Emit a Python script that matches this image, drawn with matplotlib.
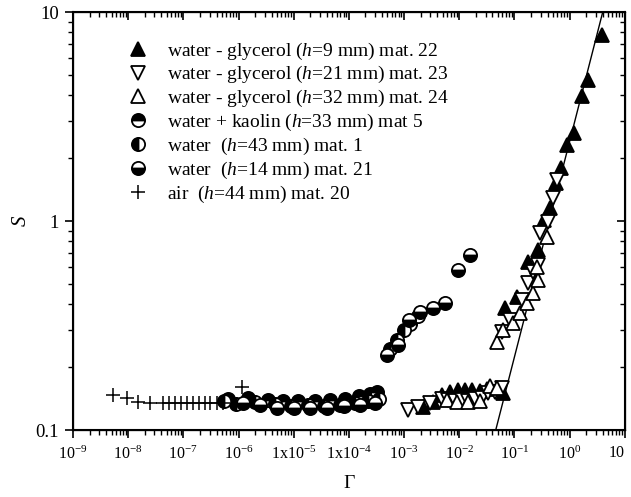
import matplotlib
matplotlib.use("Agg")
import matplotlib.pyplot as plt
from matplotlib.ticker import LogLocator, FixedLocator, FixedFormatter, NullFormatter

plt.rcParams['font.family'] = ['Liberation Serif', 'DejaVu Serif']
plt.rcParams['mathtext.fontset'] = 'custom'
plt.rcParams['mathtext.rm'] = 'Liberation Serif'
plt.rcParams['mathtext.it'] = 'Liberation Serif:italic'

# ---- data (Gamma, S) ----
g9_gamma = [2.19e-3, 3.32e-3, 4.84e-3, 6.76e-3, 9.44e-3, 1.26e-2, 1.69e-2, 2.36e-2, 3.16e-2, 6.17e-2,
            6.70e-2, 0.110, 0.175, 0.265, 0.341, 0.438, 0.562, 0.693, 0.889, 1.19, 1.66, 2.14, 3.83]
g9_S = [0.129, 0.136, 0.147, 0.152, 0.155, 0.155, 0.155, 0.154, 0.157, 0.150,
        0.384, 0.433, 0.637, 0.726, 1.01, 1.15, 1.52, 1.79, 2.31, 2.64, 3.96, 4.73, 7.76]

g21_gamma = [1.17e-3, 1.78e-3, 2.93e-3, 4.84e-3, 6.21e-3, 8.32e-3, 1.11e-2, 1.43e-2, 1.92e-2, 2.57e-2,
             3.30e-2, 4.41e-2, 5.91e-2, 5.91e-2, 8.26e-2, 0.136, 0.175, 0.215, 0.265, 0.288, 0.403, 0.496, 0.586]
g21_S = [0.125, 0.129, 0.135, 0.141, 0.139, 0.138, 0.139, 0.138, 0.141, 0.142,
         0.150, 0.152, 0.159, 0.294, 0.336, 0.419, 0.505, 0.570, 0.615, 0.877, 0.99, 1.29, 1.57]

g32_gamma = [5.96e-3, 9.06e-3, 1.43e-2, 2.36e-2, 3.58e-2, 4.80e-2,
             4.80e-2, 6.17e-2, 9.35e-2, 0.125, 0.168, 0.215, 0.265, 0.255, 0.386]
g32_S = [0.139, 0.136, 0.136, 0.138, 0.163, 0.159,
         0.264, 0.301, 0.325, 0.363, 0.405, 0.453, 0.522, 0.602, 0.838]

kaolin_gamma = [6.4e-7, 1.5e-6, 3.4e-6, 6.4e-6, 1.2e-5, 2.4e-5, 4.5e-5, 8.5e-5, 1.5e-4, 2.4e-4, 3.3e-4,
                1.3e-3, 1.8e-3]
kaolin_S = [0.140, 0.142, 0.139, 0.138, 0.137, 0.138, 0.139, 0.141, 0.145, 0.148, 0.152,
            0.320, 0.350]

w43_gamma = [5.5e-7, 9e-7, 2e-6, 4.5e-6, 9e-6, 1.8e-5, 3.5e-5, 7e-5, 1.3e-4, 2.2e-4, 3.5e-4,
             5.5e-4, 7.5e-4, 1.0e-3]
w43_S = [0.138, 0.133, 0.136, 0.133, 0.130, 0.131, 0.130, 0.132, 0.135, 0.137, 0.140,
         0.245, 0.270, 0.300]

w14_gamma = [1.2e-6, 2.5e-6, 5e-6, 1e-5, 2e-5, 4e-5, 8e-5, 1.6e-4, 3e-4,
             4.9e-4, 7.7e-4, 1.22e-3, 1.93e-3, 3.32e-3, 5.48e-3, 9.4e-3, 1.56e-2]
w14_S = [0.135, 0.132, 0.128, 0.128, 0.127, 0.128, 0.130, 0.132, 0.135,
         0.229, 0.255, 0.336, 0.367, 0.384, 0.405, 0.583, 0.688]

air_gamma = [5.3e-9, 9.5e-9, 1.5e-8, 2.5e-8, 4.3e-8, 5.5e-8, 7.0e-8, 9.0e-8, 1.16e-7, 1.5e-7,
             1.9e-7, 2.5e-7, 3.1e-7, 4.0e-7, 5.2e-7, 1.15e-6]
air_S = [0.147, 0.142, 0.1365, 0.135, 0.1346, 0.1346, 0.1346, 0.1346, 0.1346, 0.1346,
         0.1346, 0.1346, 0.1346, 0.135, 0.135, 0.161]

fit_gamma = [0.046, 4.0]
fit_S = [0.1, 10.0]

labels = ["water - glycerol ($h$=9 mm) mat. 22",
          "water - glycerol ($h$=21 mm) mat. 23",
          "water - glycerol ($h$=32 mm) mat. 24",
          "water + kaolin ($h$=33 mm) mat 5",
          "water  ($h$=43 mm) mat. 1",
          "water  ($h$=14 mm) mat. 21",
          "air  ($h$=44 mm) mat. 20"]

xtick_vals = [1e-9, 1e-8, 1e-7, 1e-6, 1e-5, 1e-4, 1e-3, 1e-2, 1e-1, 1e0, 1e1]
xtick_labels = ["10$^{-9}$", "10$^{-8}$", "10$^{-7}$", "10$^{-6}$", "1x10$^{-5}$", "1x10$^{-4}$",
                "10$^{-3}$", "10$^{-2}$", "10$^{-1}$", "10$^{0}$", "10"]
ytick_vals = [0.1, 1, 10]
ytick_labels = ["0.1", "1", "10"]

fig = plt.figure(figsize=(6.31, 4.97), dpi=100)
ax = fig.add_axes([0.1157, 0.1348, 0.8743, 0.8410])
ax.set_xscale('log')
ax.set_yscale('log')

ms_tri = 10.5
ms_circ = 9.5
ax.plot(fit_gamma, fit_S, color='black', lw=1.0, zorder=1)
h1, = ax.plot(g9_gamma, g9_S, ls='none', marker='^', ms=ms_tri, mfc='black', mec='black', mew=1.3, zorder=3)
h2, = ax.plot(g21_gamma, g21_S, ls='none', marker='v', ms=ms_tri, mfc='white', mec='black', mew=1.3, zorder=3)
h3, = ax.plot(g32_gamma, g32_S, ls='none', marker='^', ms=ms_tri, mfc='white', mec='black', mew=1.3, zorder=3)
h4, = ax.plot(kaolin_gamma, kaolin_S, ls='none', marker='o', ms=ms_circ, fillstyle='top', mfc='black',
              mfcalt='white', mec='black', mew=1.3, zorder=2)
h5, = ax.plot(w43_gamma, w43_S, ls='none', marker='o', ms=ms_circ, fillstyle='left', mfc='black',
              mfcalt='white', mec='black', mew=1.3, zorder=2)
h6, = ax.plot(w14_gamma, w14_S, ls='none', marker='o', ms=ms_circ, fillstyle='bottom', mfc='black',
              mfcalt='white', mec='black', mew=1.3, zorder=2)
h7, = ax.plot(air_gamma, air_S, ls='none', marker='+', ms=9.5, mec='black', mew=1.1, zorder=2)

ax.set_xlim(1e-9, 10)
ax.set_ylim(0.1, 10)

ax.xaxis.set_major_locator(FixedLocator(xtick_vals))
ax.xaxis.set_major_formatter(FixedFormatter(xtick_labels))
ax.xaxis.set_minor_locator(LogLocator(base=10, subs=range(2, 10), numticks=20))
ax.xaxis.set_minor_formatter(NullFormatter())
ax.yaxis.set_major_locator(FixedLocator(ytick_vals))
ax.yaxis.set_major_formatter(FixedFormatter(ytick_labels))
ax.yaxis.set_minor_locator(LogLocator(base=10, subs=range(2, 10), numticks=20))
ax.yaxis.set_minor_formatter(NullFormatter())
ax.tick_params(which='major', direction='out', length=6, width=1.2)
ax.tick_params(which='minor', direction='out', length=3.5, width=1.0)
ax.tick_params(axis='x', which='major', labelsize=11.5, pad=5)
ax.tick_params(axis='y', which='major', labelsize=13.5, pad=4)
for s in ax.spines.values():
    s.set_linewidth(1.5)

# top / right inward ticks
axt = ax.twiny()
axt.set_xscale('log'); axt.set_xlim(ax.get_xlim())
axt.xaxis.set_major_locator(FixedLocator(xtick_vals))
axt.xaxis.set_minor_locator(LogLocator(base=10, subs=range(2, 10), numticks=20))
axt.tick_params(which='major', direction='in', length=6, width=1.2, labeltop=False)
axt.tick_params(which='minor', direction='in', length=3.5, width=1.0)
axr = ax.twinx()
axr.set_yscale('log'); axr.set_ylim(ax.get_ylim())
axr.yaxis.set_major_locator(FixedLocator(ytick_vals))
axr.yaxis.set_minor_locator(LogLocator(base=10, subs=range(2, 10), numticks=20))
axr.tick_params(which='major', direction='in', length=6, width=1.2, labelright=False)
axr.tick_params(which='minor', direction='in', length=3.5, width=1.0)
axr.yaxis.set_major_formatter(NullFormatter()); axr.yaxis.set_minor_formatter(NullFormatter())
axt.xaxis.set_major_formatter(NullFormatter()); axt.xaxis.set_minor_formatter(NullFormatter())

ax.set_xlabel("Γ", fontsize=14, labelpad=9)
ax.set_ylabel("$S$", fontsize=15, labelpad=3)

leg = ax.legend([h1, h2, h3, h4, h5, h6, h7], labels, loc='upper left', bbox_to_anchor=(0.100, 0.932),
                frameon=False, fontsize=14, handlelength=1.0, handletextpad=1.0, labelspacing=0.14,
                borderaxespad=0, borderpad=0)

# keep the last x tick label ("10") inside the figure edge
fig.canvas.draw()
ax.xaxis.get_major_ticks()[-1].label1.set_horizontalalignment('right')

fig.savefig("out.png", dpi=100)
